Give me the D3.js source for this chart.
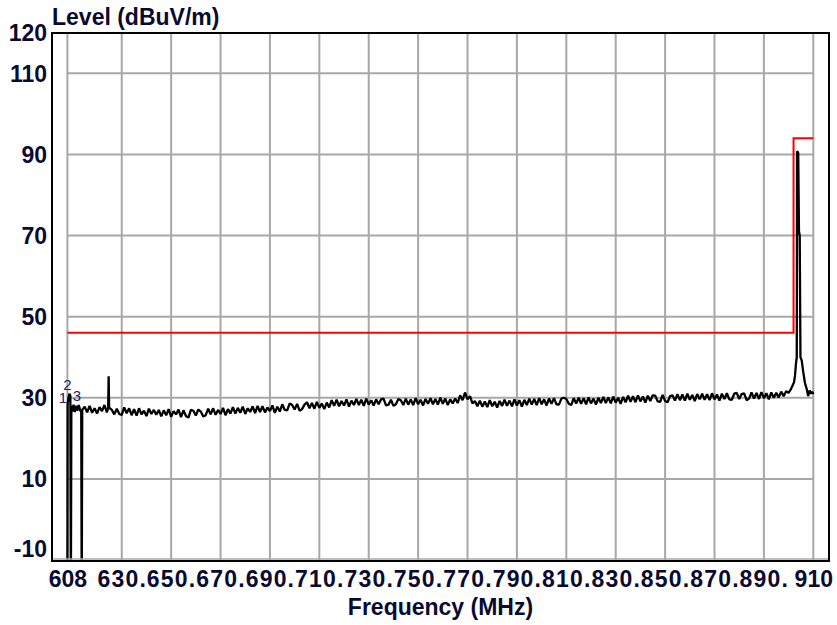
<!DOCTYPE html>
<html>
<head>
<meta charset="utf-8">
<script src="https://cdn.jsdelivr.net/npm/d3@7/dist/d3.min.js"></script>
<style>
  html, body { margin: 0; padding: 0; background: #ffffff; }
  svg { display: block; }
  .lbl { font-family: "Liberation Sans", Arial, sans-serif; font-weight: bold; fill: #0a0a30; }
</style>
</head>
<body>
<div id="chart"></div>
<script>
// ---------- DATA ----------
const yTickValues = [120, 110, 90, 70, 50, 30, 10, -10];
const yGridValues = [110, 90, 70, 50, 30, 10];
const xTickValues = [608, 630, 650, 670, 690, 710, 730, 750, 770, 790, 810, 830, 850, 870, 890, 910];
const xTickLabels = ["608", "630.", "650.", "670.", "690.", "710.", "730.", "750.", "770.", "790.", "810.", "830.", "850.", "870.", "890.", "910"];

// limit line (dBuV/m): [frequency MHz, level]
const limitFreq  = [608, 902, 902, 910];
const limitLevel = [46, 46, 94, 94];

// start of sweep (frequency, level) — drop-outs go below the axis
const startFreq  = [608.0, 608.1, 608.4, 608.8, 609.2, 609.4, 609.6, 610.0, 610.5, 611.0, 611.5, 612.0, 612.6, 613.2, 613.6, 613.8, 614.0];
const startLevel = [-20, 28.5, 29.8, 31.0, 30.5, -20, 28.0, 26.6, 28.3, 26.5, 28.0, 26.8, 28.2, 26.9, 26.4, -20, 27.0];

// noise floor, one reading per MHz from 615 MHz to 901 MHz
const floorStart = 615;
const floorLevel = [
  27.8, 26.4, 28.0, 26.3, 27.4, 26.1, 27.7, 26.7, 28.2, 26.4,
  27.5, 27.0, 25.9, 27.3, 26.0, 25.8, 27.6, 26.2, 27.4, 25.7,
  27.2, 25.6, 27.4, 25.9, 26.8, 25.5, 27.3, 26.0, 27.0, 25.8,
  27.0, 25.4, 26.9, 25.7, 27.2, 25.3, 26.7, 25.9, 27.1, 25.2,
  26.9, 25.5, 25.1, 27.0, 26.8, 25.6, 27.1, 26.6, 25.4, 25.7,
  27.3, 25.9, 27.4, 25.8, 27.0, 26.0, 27.5, 25.7, 27.2, 26.1,
  27.7, 26.1, 27.5, 26.3, 27.8, 26.0, 27.4, 26.5, 27.9, 26.2,
  28.0, 26.5, 27.9, 26.4, 27.6, 26.7, 28.1, 26.3, 27.8, 26.6,
  28.4, 27.0, 26.9, 28.6, 28.2, 27.1, 28.5, 26.8, 27.2, 28.3,
  28.9, 27.4, 28.7, 27.3, 29.0, 27.5, 28.6, 27.2, 28.8, 27.6,
  29.4, 28.0, 29.5, 27.9, 29.2, 28.1, 29.6, 27.8, 29.3, 28.2,
  29.7, 28.2, 29.5, 28.0, 29.8, 28.3, 29.4, 28.1, 29.6, 28.4,
  29.6, 29.8, 28.1, 28.3, 29.5, 28.0, 28.4, 29.7, 29.4, 28.2,
  29.8, 28.3, 29.6, 28.2, 29.9, 28.4, 29.5, 28.1, 29.7, 28.5,
  29.9, 28.4, 29.7, 28.3, 30.0, 28.5, 29.8, 28.2, 29.6, 28.6,
  29.8, 28.7, 30.6, 29.4, 31.3, 29.6, 30.4, 28.6, 29.2, 27.9,
  29.3, 27.8, 29.1, 27.7, 29.4, 27.9, 29.0, 27.6, 29.2, 28.0,
  29.5, 28.0, 29.3, 27.9, 29.6, 28.1, 29.4, 27.8, 29.5, 28.2,
  29.8, 28.3, 29.7, 28.2, 29.9, 28.4, 29.6, 28.1, 29.8, 28.5,
  29.9, 28.4, 28.3, 29.8, 30.0, 29.7, 28.5, 28.2, 29.9, 28.6,
  30.0, 28.5, 29.9, 28.4, 30.1, 28.6, 29.8, 28.3, 30.0, 28.7,
  30.2, 28.7, 30.1, 28.6, 30.3, 28.8, 30.0, 28.5, 30.2, 28.9,
  30.5, 29.0, 30.4, 28.9, 30.6, 29.1, 30.3, 28.8, 30.5, 29.2,
  30.6, 30.5, 29.1, 29.0, 30.7, 29.2, 28.9, 30.4, 30.6, 29.3,
  30.9, 29.4, 30.8, 29.3, 31.0, 29.5, 30.7, 29.2, 30.9, 29.6,
  31.0, 29.5, 30.9, 29.4, 31.1, 29.6, 30.8, 29.3, 31.0, 29.7,
  31.1, 29.6, 29.5, 31.0, 31.2, 29.7, 30.9, 31.1, 29.4, 29.8,
  31.3, 29.8, 31.2, 29.7, 31.4, 29.9, 31.1, 29.6, 31.3, 30.0,
  31.2, 30.1, 31.5, 30.4, 31.6, 31.2, 32.2
];

// narrow spur near 624.7 MHz
const spurFreq  = [624.5, 624.7, 624.9];
const spurLevel = [27.5, 35.3, 27.2];

// carrier near 903.5 MHz and end of sweep
const peakFreq  = [902.2, 902.6, 903.0, 903.3, 903.45, 903.9, 904.2, 904.5, 904.8, 905.3, 905.9, 906.6, 907.4, 907.9, 908.5, 909.2, 909.6, 910.0];
const peakLevel = [33.8, 35.5, 38.5, 40.0, 90.8, 90.3, 71.0, 70.0, 40.0, 39.2, 36.5, 33.7, 32.0, 30.4, 31.8, 31.0, 31.5, 30.9];

// markers
const markerLabels = ["1", "2", "3"];
const markerFreq   = [606.2, 608.0, 611.9];
const markerLevel  = [28.6, 31.9, 29.2];

const yTitle = "Level (dBuV/m)";
const xTitle = "Frequency (MHz)";

// ---------- BUILD ----------
const W = 837, H = 625;
const svg = d3.select("#chart").append("svg").attr("width", W).attr("height", H);

const x = d3.scaleLinear().domain([608, 910]).range([67.4, 813.3]);
const y = d3.scaleLinear().domain([-10, 120]).range([560, 32.7]);

const frame = { left: 52, right: 829, top: 33, bottom: 561 };

// clip
svg.append("defs").append("clipPath").attr("id", "plotclip")
  .append("rect").attr("x", frame.left).attr("y", frame.top)
  .attr("width", frame.right - frame.left).attr("height", frame.bottom - frame.top);

// grid
const grid = svg.append("g");
grid.selectAll("line.v").data(xTickValues).enter().append("line")
  .attr("x1", d => x(d)).attr("x2", d => x(d))
  .attr("y1", frame.top).attr("y2", frame.bottom)
  .attr("stroke", "#a8a8a8").attr("stroke-width", 2);
grid.selectAll("line.h").data(yGridValues).enter().append("line")
  .attr("x1", x(608)).attr("x2", x(910))
  .attr("y1", d => y(d)).attr("y2", d => y(d))
  .attr("stroke", "#a8a8a8").attr("stroke-width", 2);

// trace data
const trace = [];
startFreq.forEach((f, i) => trace.push([f, startLevel[i]]));
floorLevel.forEach((v, i) => trace.push([floorStart + i, v]));
spurFreq.forEach((f, i) => trace.push([f, spurLevel[i]]));
peakFreq.forEach((f, i) => trace.push([f, peakLevel[i]]));
trace.sort((a, b) => a[0] - b[0]);

const plot = svg.append("g").attr("clip-path", "url(#plotclip)");

const limitData = limitFreq.map((f, i) => [f, limitLevel[i]]);
const line = d3.line().x(d => x(d[0])).y(d => y(d[1]));

plot.append("path").datum(limitData).attr("d", line)
  .attr("fill", "none").attr("stroke", "#ff0000").attr("stroke-width", 2);

plot.append("path").datum(trace).attr("d", line)
  .attr("fill", "none").attr("stroke", "#000000").attr("stroke-width", 2.3)
  .attr("stroke-linejoin", "bevel");

// markers
svg.selectAll("text.mk").data(markerLabels).enter().append("text")
  .attr("class", "lbl")
  .attr("x", (d, i) => x(markerFreq[i])).attr("y", (d, i) => y(markerLevel[i]))
  .attr("text-anchor", "middle")
  .style("font-weight", "normal").style("font-size", "15px").style("fill", "#22226e")
  .text(d => d);

// frame
svg.append("line").attr("x1", frame.left).attr("x2", frame.right)
  .attr("y1", frame.bottom - 2).attr("y2", frame.bottom - 2)
  .attr("stroke", "#a8a8a8").attr("stroke-width", 1.5);
svg.append("rect").attr("x", frame.left).attr("y", frame.top)
  .attr("width", frame.right - frame.left).attr("height", frame.bottom - frame.top)
  .attr("fill", "none").attr("stroke", "#000").attr("stroke-width", 2);

// axes
const xAxis = d3.axisBottom(x).tickValues(xTickValues)
  .tickFormat((d, i) => xTickLabels[i]).tickSize(0).tickPadding(0);
const gx = svg.append("g").call(xAxis);
gx.select(".domain").remove();
gx.selectAll("text").attr("class", "lbl").attr("y", 587).attr("dy", null)
  .style("font-size", "23px")
  .style("letter-spacing", (d, i) => xTickLabels[i].endsWith(".") ? "1.2px" : "0px");

const yAxis = d3.axisLeft(y).tickValues(yTickValues).tickFormat(d => String(d))
  .tickSize(0).tickPadding(0);
const gy = svg.append("g").call(yAxis);
gy.select(".domain").remove();
gy.selectAll(".tick").attr("transform", d => `translate(47,${Math.min(y(d), 549)})`);
gy.selectAll("text").attr("class", "lbl").attr("x", 0).attr("dy", "0.36em")
  .attr("text-anchor", "end").style("font-size", "23px");

// titles
svg.append("text").attr("class", "lbl").attr("x", 52).attr("y", 25)
  .style("font-size", "23px").text(yTitle);
svg.append("text").attr("class", "lbl").attr("x", (frame.left + frame.right) / 2).attr("y", 615)
  .attr("text-anchor", "middle").style("font-size", "23px").text(xTitle);
</script>
</body>
</html>
